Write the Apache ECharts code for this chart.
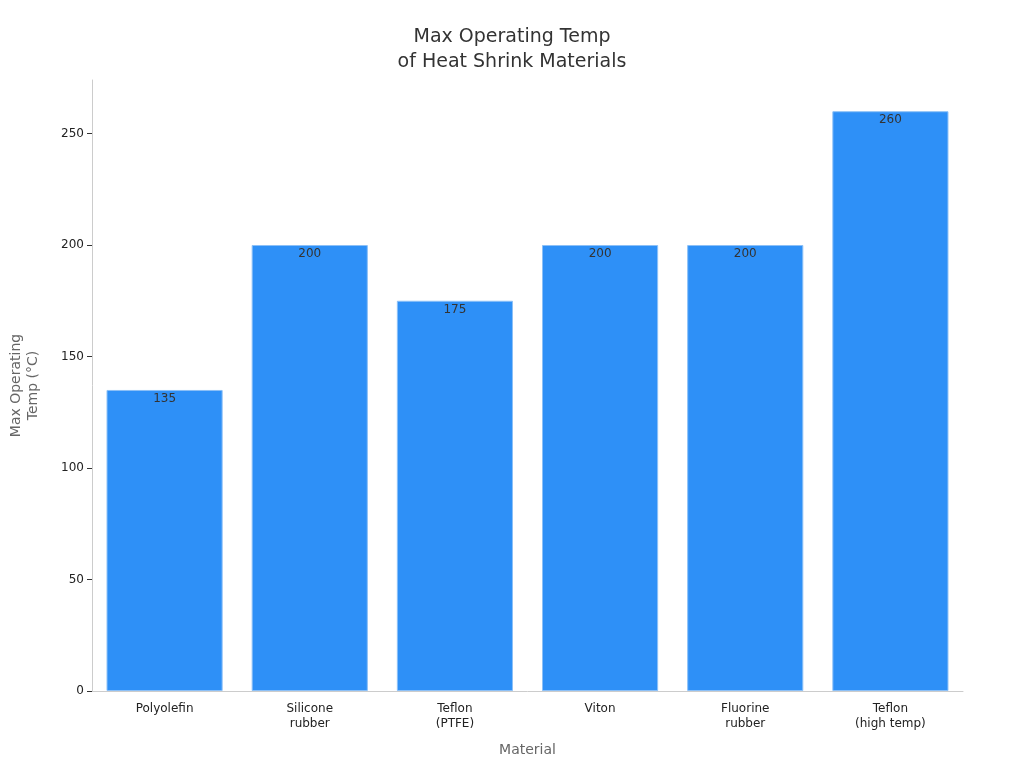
<!DOCTYPE html>
<html><head><meta charset="utf-8">
<script src="https://cdn.jsdelivr.net/npm/echarts@6/dist/echarts.min.js"></script>
<style>html,body{margin:0;padding:0;background:#fff}#c{width:1024px;height:768px}</style>
</head><body><div id="c"></div>
<script>
const categories = ["Polyolefin","Silicone\nrubber","Teflon\n(PTFE)","Viton","Fluorine\nrubber","Teflon\n(high temp)"];
const temps = [135,200,175,200,200,260];
const chart = echarts.init(document.getElementById('c'));
chart.setOption({
  textStyle:{fontFamily:'DejaVu Sans'},
  title:{text:'Max Operating Temp\nof Heat Shrink Materials',left:'center',top:20,
    textStyle:{fontSize:19,fontWeight:'normal',color:'#333',lineHeight:25,fontFamily:'DejaVu Sans'}},
  grid:{left:87,right:61,top:80,bottom:77},
  xAxis:{type:'category',data:categories,name:'Material',nameLocation:'middle',nameGap:52,
    nameTextStyle:{fontSize:14,color:'#666'},
    axisLine:{lineStyle:{color:'#ccc'}},axisTick:{show:false},
    axisLabel:{color:'#222',fontSize:12,lineHeight:15,margin:10}},
  yAxis:{type:'value',min:0,max:274,interval:50,name:'Max Operating\nTemp (°C)',nameLocation:'middle',nameGap:50,
    nameTextStyle:{fontSize:14,color:'#666',lineHeight:17},
    axisLine:{show:true,lineStyle:{color:'#ccc'}},axisTick:{show:true,lineStyle:{color:'#333'}},
    splitLine:{show:false},axisLabel:{color:'#222',fontSize:12,showMaxLabel:false}},
  series:[{type:'bar',data:temps,barCategoryGap:'20%',
    itemStyle:{color:'#2E90F7',borderColor:'#8cc0f7',borderWidth:1},
    label:{show:true,position:'insideTop',offset:[0,-2],color:'#333',fontSize:12}}]
});
</script></body></html>
